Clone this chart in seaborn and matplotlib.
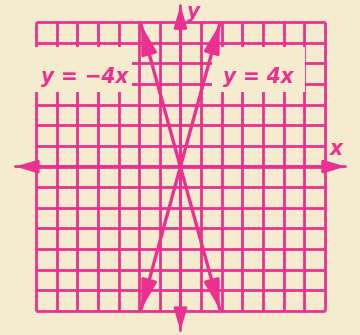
import matplotlib
matplotlib.use("Agg")
import matplotlib.pyplot as plt
from matplotlib.patches import Rectangle
import pandas as pd
import seaborn as sns

# ------------------------------------------------------------------
# Data
# ------------------------------------------------------------------
grid_ticks = list(range(-7, 8))          # 14 x 14 grid of unit squares
axis_x_span = [-8.0, 8.0]                # x-axis incl. arrow tips
axis_y_span = [-7.95, 7.8]               # y-axis incl. arrow tips

line_x = [-1.9, 1.9]
pos_y = [-6.9, 6.9]                      # y = 4x
neg_y = [6.85, -6.9]                     # y = -4x

line_labels = ["y = \u22124x", "y = 4x"]

MAGENTA = "#EA3190"
CREAM = "#F5EBCF"

sns.set_theme(style="white")
plt.rcParams["font.family"] = ["DejaVu Sans Condensed", "Liberation Sans Narrow",
                               "DejaVu Sans"]

fig = plt.figure(figsize=(3.6, 3.35), dpi=100)
fig.patch.set_facecolor(CREAM)
ax = fig.add_axes([0, 0, 1, 1])
ax.set_facecolor(CREAM)
ax.set_xlim(-8.745, 8.70)
ax.set_ylim(-8.16, 8.07)
ax.axis("off")

# grid
lo, hi = grid_ticks[0], grid_ticks[-1]
ax.vlines(grid_ticks, lo, hi, color=MAGENTA, lw=2.0, zorder=1)
ax.hlines(grid_ticks, lo, hi, color=MAGENTA, lw=2.0, zorder=1)

# label backgrounds that hide the grid
for x0, x1 in [(-7.15, -2.35), (1.53, 6.03)]:
    ax.add_patch(Rectangle((x0, 3.61), x1 - x0, 5.79 - 3.61,
                           facecolor=CREAM, edgecolor="none", zorder=2))

# coordinate axes with arrows on both ends
arrow_axis = dict(arrowstyle="-|>,head_length=1.0,head_width=0.3",
                  color=MAGENTA, lw=2.0, mutation_scale=13,
                  shrinkA=0, shrinkB=0)
ax.annotate("", xy=(axis_x_span[1], 0), xytext=(axis_x_span[0], 0),
            arrowprops=arrow_axis, zorder=3)
ax.annotate("", xy=(axis_x_span[0], 0), xytext=(axis_x_span[1], 0),
            arrowprops=arrow_axis, zorder=3)
ax.annotate("", xy=(0, axis_y_span[1]), xytext=(0, axis_y_span[0]),
            arrowprops=arrow_axis, zorder=3)
ax.annotate("", xy=(0, axis_y_span[0]), xytext=(0, axis_y_span[1]),
            arrowprops=arrow_axis, zorder=3)

# the two lines
df = pd.DataFrame({
    "x": line_x + line_x,
    "y": pos_y + neg_y,
    "line": ["pos"] * 2 + ["neg"] * 2,
})
sns.lineplot(data=df, x="x", y="y", units="line", estimator=None,
             sort=False, color=MAGENTA, lw=2.4, ax=ax, zorder=4,
             legend=False)

arrow_line = dict(arrowstyle="-|>,head_length=1.2,head_width=0.33",
                  color=MAGENTA, lw=2.4, mutation_scale=14,
                  shrinkA=0, shrinkB=0)
for ys in (pos_y, neg_y):
    for i, j in ((0, 1), (1, 0)):
        mx = line_x[i] + (line_x[j] - line_x[i]) * 0.1
        my = ys[i] + (ys[j] - ys[i]) * 0.1
        ax.annotate("", xy=(line_x[i], ys[i]), xytext=(mx, my),
                    arrowprops=arrow_line, zorder=4)

# texts
txt = dict(color=MAGENTA, fontsize=16, fontweight="bold", style="italic",
           fontstretch="condensed", zorder=5)
ax.text(-4.63, 4.04, line_labels[0], ha="center", va="baseline", **txt)
ax.text(3.75, 4.04, line_labels[1], ha="center", va="baseline", **txt)
ax.text(7.55, 0.55, "x", ha="center", va="baseline", **txt)
ax.text(0.62, 7.2, "y", ha="center", va="baseline", **txt)

fig.savefig("out.png", dpi=100, facecolor=CREAM)
